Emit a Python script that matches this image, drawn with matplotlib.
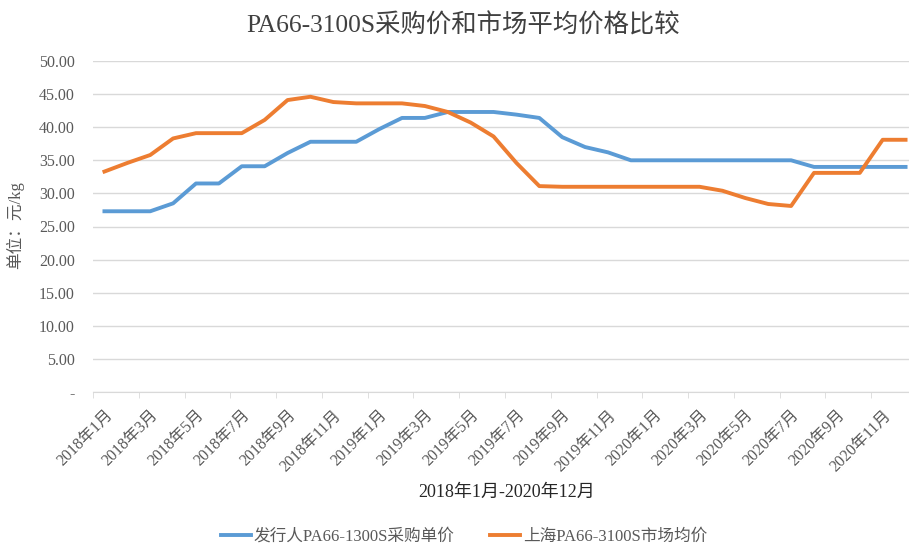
import matplotlib
matplotlib.use("Agg")
import matplotlib.pyplot as plt
from matplotlib.ticker import FixedLocator

plt.rcParams['font.family'] = ['Liberation Serif', 'Noto Sans CJK SC', 'DejaVu Sans']

months = [f"{y}年{m}月" for y in (2018, 2019, 2020) for m in range(1, 13)]
issuer = [27.3, 27.3, 27.3, 28.5, 31.5, 31.5, 34.1, 34.1, 36.1, 37.8, 37.8, 37.8,
          39.7, 41.4, 41.4, 42.3, 42.3, 42.3, 41.9, 41.4, 38.5, 37.0, 36.2, 35.0,
          35.0, 35.0, 35.0, 35.0, 35.0, 35.0, 35.0, 34.0, 34.0, 34.0, 34.0, 34.0]
market = [33.3, 34.6, 35.8, 38.3, 39.1, 39.1, 39.1, 41.1, 44.1, 44.6, 43.8, 43.6,
          43.6, 43.6, 43.2, 42.3, 40.7, 38.6, 34.6, 31.1, 31.0, 31.0, 31.0, 31.0,
          31.0, 31.0, 31.0, 30.4, 29.3, 28.4, 28.1, 33.1, 33.1, 33.1, 38.1, 38.1]
yticks = [0, 5, 10, 15, 20, 25, 30, 35, 40, 45, 50]
ytick_labels = ["-"] + [f"{v:.2f}" for v in yticks[1:]]

gray = "#595959"
fig = plt.figure(figsize=(9.09, 5.45), dpi=100)
ax = fig.add_axes([93/909, 1-392/545, (917-93)/909, (392-61)/545])

x = list(range(len(months)))
l1, = ax.plot(x, issuer, color="#5B9BD5", lw=2.8, solid_joinstyle='round', label="发行人PA66-1300S采购单价")
l2, = ax.plot(x, market, color="#ED7D31", lw=2.8, solid_joinstyle='round', label="上海PA66-3100S市场均价")

ax.set_xlim(-0.5, len(months) - 0.5)
ax.set_ylim(0, 50)
ax.set_yticks(yticks)
ax.set_yticklabels(ytick_labels, color=gray, fontsize=11.5)
ax.yaxis.grid(True, color="#D9D9D9", lw=1)
ax.set_axisbelow(True)
ax.tick_params(axis='y', length=0, pad=13)

ax.set_xticks(x[::2])
ax.set_xticklabels(months[::2], rotation=45, ha='right', va='top', rotation_mode='anchor',
                   color=gray, fontsize=11.5)
ax.xaxis.set_minor_locator(FixedLocator([i - 0.5 for i in range(0, len(months) + 1, 2)]))
ax.tick_params(axis='x', which='major', length=0, pad=11)
ax.tick_params(axis='x', which='minor', length=4, color="#D9D9D9")

for s in ['top', 'right', 'left']:
    ax.spines[s].set_visible(False)
ax.spines['bottom'].set_color("#D9D9D9")

fig.text(15/909, 1-225/545, "单位：元/kg", rotation=90, ha='center', va='center', color=gray, fontsize=12)
fig.text(507/909, 1-492/545, "2018年1月-2020年12月", ha='center', va='center', color="#262626", fontsize=13)
fig.suptitle("PA66-3100S采购价和市场平均价格比较", x=463/909, y=1-25/545, va='center',
             color="#404040", fontsize=18.3)

fig.legend(handles=[l1, l2], loc='center', bbox_to_anchor=(464/909, 1-537/545), ncol=2,
           frameon=False, fontsize=12, handlelength=1.8, handletextpad=0.2, columnspacing=2.1,
           labelcolor=gray)

fig.savefig("out.png", dpi=100)
